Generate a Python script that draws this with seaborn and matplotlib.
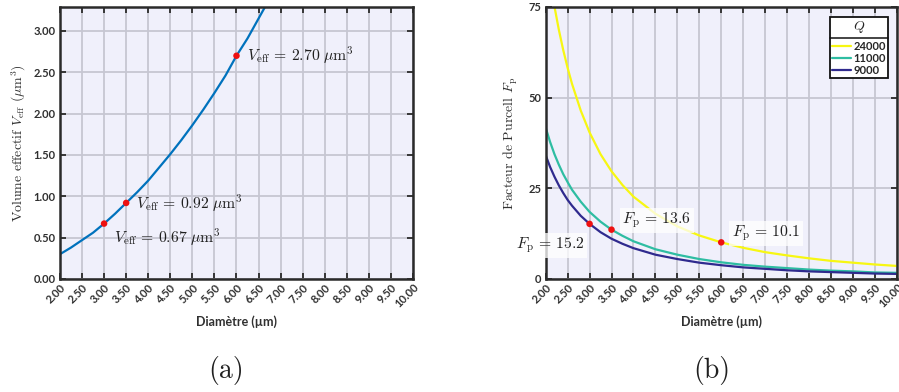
import numpy as np
import pandas as pd
import seaborn as sns
import matplotlib
matplotlib.use("Agg")
import matplotlib.pyplot as plt
from matplotlib.lines import Line2D

# ---------------- data ----------------
diam_a = [2.00, 2.25, 2.50, 2.75, 3.00, 3.25, 3.50, 3.75, 4.00, 4.25, 4.50,
          4.75, 5.00, 5.25, 5.50, 5.75, 6.00, 6.25, 6.50, 6.75]
veff = [0.30, 0.38, 0.47, 0.56, 0.67, 0.79, 0.92, 1.05, 1.19, 1.35, 1.51,
        1.68, 1.86, 2.05, 2.25, 2.46, 2.70, 2.91, 3.15, 3.39]
veff_pts_x = [3.0, 3.5, 6.0]
veff_pts_y = [0.67, 0.92, 2.70]
veff_labels = ["0.67", "0.92", "2.70"]

diam_b = [2.0, 2.1, 2.2, 2.3, 2.4, 2.5, 2.6, 2.8, 3.0, 3.25, 3.5, 3.75, 4.0,
          4.5, 5.0, 5.5, 6.0, 6.5, 7.0, 7.5, 8.0, 8.5, 9.0, 9.5, 10.0]
fp_24000 = [90.9, 82.4, 75.1, 68.7, 63.1, 58.2, 53.8, 46.4, 40.4, 34.4, 29.7,
            25.9, 22.7, 18.0, 14.5, 12.0, 10.1, 8.6, 7.4, 6.5, 5.7, 5.0, 4.5,
            4.0, 3.6]
fp_11000 = [41.7, 37.8, 34.4, 31.5, 28.9, 26.7, 24.6, 21.3, 18.5, 15.8, 13.6,
            11.9, 10.4, 8.2, 6.7, 5.5, 4.6, 3.9, 3.4, 3.0, 2.6, 2.3, 2.1, 1.8,
            1.7]
fp_9000 = [34.1, 30.9, 28.2, 25.8, 23.7, 21.8, 20.2, 17.4, 15.2, 12.9, 11.1,
           9.7, 8.5, 6.7, 5.5, 4.5, 3.8, 3.2, 2.8, 2.4, 2.1, 1.9, 1.7, 1.5, 1.4]
q_labels = ["24000", "11000", "9000"]
q_colors = ["#F7F712", "#2EBDA2", "#2F2A8E"]
fp_pts_x = [3.0, 3.5, 6.0]
fp_pts_y = [15.2, 13.6, 10.1]
fp_labels = ["15.2", "13.6", "10.1"]

xticks = [2.0 + 0.5 * i for i in range(17)]
xtick_labels = [f"{v:.2f}" for v in xticks]
yticks_a = [0.0, 0.5, 1.0, 1.5, 2.0, 2.5, 3.0]
yticks_b = [0, 25, 50, 75]

# ---------------- style ----------------
sns.set_theme(style="ticks")
plt.rcParams["font.family"] = ["Lato", "DejaVu Sans"]
plt.rcParams["mathtext.fontset"] = "cm"
plt.rcParams["axes.unicode_minus"] = False

BG = "#F0F0FB"
GRID = "#C6C6D2"
FRAME = "#2A2A2A"
SERIF = ["cmr10", "DejaVu Serif"]

fig = plt.figure(figsize=(8.99, 3.92), dpi=100)
ax1 = fig.add_axes([0.0667, 0.2883, 0.3927, 0.6939])
ax2 = fig.add_axes([0.6070, 0.2883, 0.3905, 0.6939])


def style_axes(ax, yticks, ylabels):
    ax.set_facecolor(BG)
    ax.set_xlim(2, 10)
    ax.set_xticks(xticks)
    ax.set_xticklabels(xtick_labels, rotation=45, ha="right", va="top",
                       rotation_mode="anchor", fontsize=8, fontweight="bold",
                       color="#303030")
    ax.set_yticks(yticks)
    ax.set_yticklabels(ylabels, fontsize=8, fontweight="bold", color="#303030")
    ax.grid(True, color=GRID, linewidth=1.3)
    ax.set_axisbelow(True)
    ax.tick_params(direction="in", length=4, width=1.3, color=FRAME,
                   top=True, right=True, pad=3)
    ax.tick_params(axis="x", pad=2)
    for s in ax.spines.values():
        s.set_color(FRAME)
        s.set_linewidth(1.8)
    ax.set_xlabel("Diamètre (µm)", fontsize=9, fontweight="bold",
                  color="#303030", labelpad=4)


# ---------------- (a) ----------------
df_a = pd.DataFrame({"D": diam_a, "V": veff})
sns.lineplot(data=df_a, x="D", y="V", ax=ax1, color="#0072BD", linewidth=1.6)
ax1.scatter(veff_pts_x, veff_pts_y, color="#EE1111", s=22, zorder=5,
            edgecolor="none")
style_axes(ax1, yticks_a, [f"{v:.2f}" for v in yticks_a])
ax1.set_ylim(0, 3.29)
ax1.set_ylabel(r"Volume effectif $V_{\mathrm{eff}}$ ($\mu$m$^3$)",
               fontsize=10, family=SERIF, color="#303030", labelpad=4)
offs_a = [(0.22, -0.17), (0.22, 0.0), (0.23, 0.0)]
for x, y, lab, (dx, dy) in zip(veff_pts_x, veff_pts_y, veff_labels, offs_a):
    ax1.text(x + dx, y + dy, r"$V_{\mathrm{eff}}\,=\,%s\ \mu\mathrm{m}^3$" % lab,
             fontsize=11.3, va="center", ha="left", color="#202020")

# ---------------- (b) ----------------
rows = []
for lab, ser in zip(q_labels, [fp_24000, fp_11000, fp_9000]):
    for d, v in zip(diam_b, ser):
        rows.append({"D": d, "Fp": v, "Q": lab})
df_b = pd.DataFrame(rows)
sns.lineplot(data=df_b, x="D", y="Fp", hue="Q", hue_order=q_labels,
             palette=dict(zip(q_labels, q_colors)), ax=ax2, linewidth=1.6,
             legend=False)
ax2.scatter(fp_pts_x, fp_pts_y, color="#EE1111", s=22, zorder=5,
            edgecolor="none")
style_axes(ax2, yticks_b, [str(v) for v in yticks_b])
ax2.set_ylim(0, 75)
ax2.set_ylabel(r"Facteur de Purcell $F_{\mathrm{p}}$", fontsize=10,
               family=SERIF, color="#303030", labelpad=6)
offs_b = [(-1.68, -6.0), (0.25, 2.5), (0.25, 2.5)]
for x, y, lab, (dx, dy) in zip(fp_pts_x, fp_pts_y, fp_labels, offs_b):
    ax2.text(x + dx, y + dy, r"$F_{\mathrm{p}}\,=\,%s$" % lab, fontsize=11.3,
             va="center", ha="left", color="#202020", zorder=4,
             bbox=dict(facecolor="white", edgecolor="none", alpha=0.75,
                       pad=2))

handles = [Line2D([], [], color=c, linewidth=1.6) for c in q_colors]
leg = ax2.legend(handles, q_labels, title=r"$Q$", loc="upper right",
                 bbox_to_anchor=(0.975, 0.963), frameon=True, fancybox=False,
                 edgecolor="#111111", facecolor="white", framealpha=1,
                 prop={"weight": "bold", "size": 8}, handlelength=1.7,
                 handletextpad=0.2, borderpad=0.2, labelspacing=0.1,
                 borderaxespad=0.0)
leg.get_title().set_fontsize(10)
leg.get_frame().set_linewidth(1.3)
leg._legend_box.sep = 4

# separator between legend title and entries
fig.canvas.draw()
renderer = fig.canvas.get_renderer()
lb = leg.get_window_extent(renderer)
tb = leg.get_title().get_window_extent(renderer)
hb = leg._legend_handle_box.get_window_extent(renderer)
ysep = (tb.y0 + hb.y1) / 2.0
inv = fig.transFigure.inverted()
(x0f, yf) = inv.transform((lb.x0, ysep))
(x1f, _) = inv.transform((lb.x1, ysep))
fig.add_artist(Line2D([x0f, x1f], [yf, yf], color="#111111", linewidth=1.1,
                      zorder=10))

# captions
fig.text(0.252, 0.054, "(a)", fontsize=20, family=SERIF, ha="center",
         va="center", color="#202020")
fig.text(0.792, 0.054, "(b)", fontsize=20, family=SERIF, ha="center",
         va="center", color="#202020")

fig.savefig("out.png", dpi=100)
